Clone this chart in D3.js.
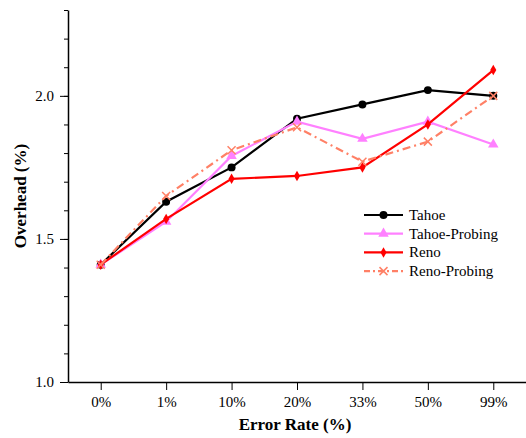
<!DOCTYPE html>
<html>
<head>
<meta charset="utf-8">
<script src="https://cdn.jsdelivr.net/npm/d3@7"></script>
<style>
    body { margin: 0; background: #fff; }
    svg text { font-family: "Liberation Serif", "Times New Roman", Times, serif !important; }
</style>
</head>
<body>
<div id="chart"></div>
<script>
// Data
const categories = ['0%', '1%', '10%', '20%', '33%', '50%', '99%'];
const tahoe        = [1.41, 1.63, 1.75, 1.92, 1.97, 2.02, 2.00];
const tahoeProbing = [1.41, 1.56, 1.79, 1.91, 1.85, 1.91, 1.83];
const reno         = [1.41, 1.57, 1.71, 1.72, 1.75, 1.90, 2.09];
const renoProbing  = [1.41, 1.65, 1.81, 1.89, 1.77, 1.84, 2.00];
const majorTicks = [1.0, 1.5, 2.0];

const seriesNames = ['Tahoe', 'Tahoe-Probing', 'Reno', 'Reno-Probing'];

const serif = '"Liberation Serif", "Times New Roman", Times, serif';

let width = 526,
    height = 438,
    margin = {top: 10, right: 0, bottom: 56, left: 68};

let chartWidth = width - margin.left - margin.right,
    chartHeight = height - margin.top - margin.bottom;

let series = [
    {name: seriesNames[0], values: tahoe, color: '#000000', marker: 'circle', dash: null},
    {name: seriesNames[1], values: tahoeProbing, color: '#ff80ff', marker: 'triangle', dash: null},
    {name: seriesNames[2], values: reno, color: '#ff0000', marker: 'diamond', dash: null},
    {name: seriesNames[3], values: renoProbing, color: '#ff8066', marker: 'cross', dash: '8,4,2,4'}
];

let svg = d3.select('#chart')
    .append('svg')
    .attr('width', width)
    .attr('height', height)
    .attr('font-family', serif);

let canvas = svg.append('g')
    .attr('transform', 'translate(' + margin.left + ',' + margin.top + ')');

let x = d3.scalePoint().domain(categories).range([0, chartWidth]).padding(0.5);
let y = d3.scaleLinear().domain([1.0, 2.3]).range([chartHeight, 0]);

// #region Axes

// minor ticks every 0.1
let minor = d3.range(10, 24).map(d => d / 10);
canvas.append('g')
    .attr('class', 'y minor')
    .call(d3.axisLeft(y).tickValues(minor).tickSize(4).tickFormat(''))
    .call(g => g.select('.domain').remove());

canvas.append('g')
    .attr('class', 'y axis')
    .call(d3.axisLeft(y).tickValues(majorTicks).tickSize(8).tickSizeOuter(0).tickPadding(6)
        .tickFormat(d3.format('.1f')))
    .attr('font-family', serif)
    .call(g => g.selectAll('text').style('font-size', '15px').attr('fill', '#000'))
    .call(g => g.select('.domain').attr('stroke-width', 1.5));

canvas.append('g')
    .attr('class', 'x axis')
    .attr('transform', 'translate(0,' + chartHeight + ')')
    .call(d3.axisBottom(x).tickSize(8).tickSizeOuter(0).tickPadding(6))
    .attr('font-family', serif)
    .call(g => g.selectAll('text').style('font-size', '15px').attr('fill', '#000'))
    .call(g => g.select('.domain').attr('stroke-width', 1.5));

svg.append('text')
    .attr('x', margin.left + chartWidth / 2 - 2)
    .attr('y', 430)
    .attr('text-anchor', 'middle')
    .style('font-size', '17px')
    .style('font-weight', 'bold')
    .text('Error Rate (%)');

svg.append('text')
    .attr('transform', 'translate(26,' + 196 + ') rotate(-90)')
    .attr('text-anchor', 'middle')
    .style('font-size', '17px')
    .style('font-weight', 'bold')
    .text('Overhead (%)');

// #endregion

// #region Lines and markers

function drawMarker(g, type, color, size) {
    if (type === 'cross') {
        let s = size;
        g.append('path')
            .attr('d', 'M' + -s + ',' + -s + 'L' + s + ',' + s + 'M' + -s + ',' + s + 'L' + s + ',' + -s)
            .attr('stroke', color)
            .attr('stroke-width', 1.5)
            .attr('fill', 'none');
        return;
    }
    let sym = {circle: d3.symbolCircle, triangle: d3.symbolTriangle, diamond: d3.symbolDiamond}[type];
    let area = {circle: 50, triangle: 48, diamond: 32}[type];
    g.append('path')
        .attr('d', d3.symbol().type(sym).size(area)())
        .attr('fill', color);
}

let line = d3.line()
    .x((d, i) => x(categories[i]))
    .y(d => y(d));

for (const s of series) {
    canvas.append('path')
        .datum(s.values)
        .attr('d', line)
        .attr('fill', 'none')
        .attr('stroke', s.color)
        .attr('stroke-width', 2.2)
        .attr('stroke-dasharray', s.dash);

    s.values.forEach(function(v, i) {
        let g = canvas.append('g')
            .attr('transform', 'translate(' + x(categories[i]) + ',' + y(v) + ')');
        drawMarker(g, s.marker, s.color, 4);
    });
}

// #endregion

// #region Legend

let legend = svg.append('g')
    .attr('transform', 'translate(364,215)');

series.forEach(function(s, i) {
    let row = legend.append('g').attr('transform', 'translate(0,' + (i * 18.7) + ')');
    row.append('line')
        .attr('x1', 0).attr('x2', 39)
        .attr('y1', 0).attr('y2', 0)
        .attr('stroke', s.color)
        .attr('stroke-width', 2.2)
        .attr('stroke-dasharray', s.dash ? '6,3,2,3' : null);
    let m = row.append('g').attr('transform', 'translate(19.5,0)');
    drawMarker(m, s.marker, s.color, 4);
    row.append('text')
        .attr('x', 45)
        .attr('y', 5)
        .style('font-size', '15px')
        .text(s.name);
});

// #endregion
</script>
</body>
</html>
